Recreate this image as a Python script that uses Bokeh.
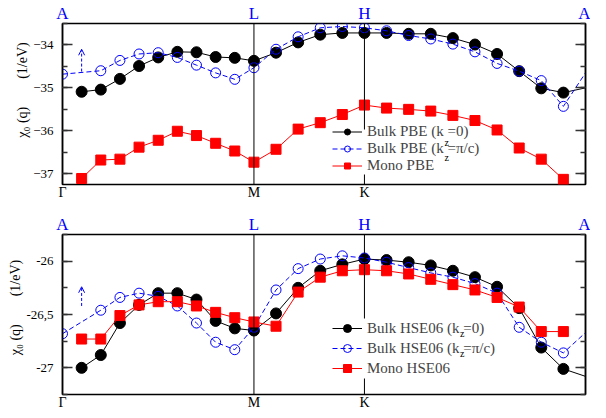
from bokeh.plotting import figure
from bokeh.models import (Range1d, FixedTicker, LinearAxis, Span, Legend, LegendItem,
                          Label, Arrow, OpenHead, ColumnDataSource, BoxAnnotation)
from bokeh.layouts import column
from bokeh.embed import file_html
from bokeh.resources import INLINE

# ---------------- data ----------------
# k-path distance (Gamma - M - K - Gamma), in units of 2*pi/a
kpath = [0.0000, 0.0577, 0.1155, 0.1732, 0.2309, 0.2887, 0.3464, 0.4041, 0.4619, 0.5196,
         0.5774, 0.6440, 0.7107, 0.7774, 0.8440, 0.9107, 0.9774, 1.0440, 1.1107, 1.1774,
         1.2440, 1.3107, 1.3774, 1.4440, 1.5107, 1.5774]
sym_pos = [0.0, 0.5774, 0.9107, 1.5774]
sym_bottom = ["Γ", "M", "K"]
sym_top = ["A", "L", "H", "A"]

# PBE panel
pbe_bulk_kz0 = [None, -35.09, -35.04, -34.79, -34.49, -34.29, -34.16, -34.17, -34.28, -34.30,
                -34.37, -34.18, -33.94, -33.76, -33.72, -33.72, -33.72, -33.74, -33.74, -33.84,
                -33.99, -34.21, -34.61, -35.01, -35.11, -35.00]
pbe_bulk_kzpi = [-34.68, None, -34.60, -34.36, -34.21, -34.18, -34.29, -34.47, -34.65, -34.80,
                 -34.53, -34.10, -33.81, -33.60, -33.57, -33.60, -33.67, -33.78, -33.86, -33.98,
                 -34.16, -34.43, -34.61, -34.83, -35.43, -34.65]
pbe_mono = [None, -37.11, -36.68, -36.66, -36.38, -36.22, -36.01, -36.11, -36.29, -36.47,
            -36.73, -36.43, -35.96, -35.81, -35.62, -35.40, -35.47, -35.50, -35.54, -35.64,
            -35.76, -35.98, -36.40, -36.66, -37.13, None]

# HSE06 panel
hse_bulk_kz0 = [None, -27.00, -26.88, -26.58, -26.41, -26.30, -26.30, -26.36, -26.56, -26.63,
                -26.65, -26.49, -26.25, -26.09, -26.03, -25.98, -25.99, -26.01, -26.04, -26.09,
                -26.15, -26.24, -26.44, -26.81, -27.01, -27.08]
hse_bulk_kzpi = [-26.68, None, -26.46, -26.34, -26.30, -26.33, -26.42, -26.58, -26.76, -26.83,
                 -26.62, -26.27, -26.07, -25.98, -25.95, -25.97, -26.01, -26.06, -26.11, -26.15,
                 -26.21, -26.30, -26.62, -26.76, -26.86, -26.67]
hse_mono = [None, -26.73, -26.73, -26.51, -26.41, -26.38, -26.38, -26.42, -26.48, -26.53,
            -26.57, -26.61, -26.29, -26.15, -26.09, -26.08, -26.09, -26.12, -26.17, -26.22,
            -26.27, -26.34, -26.43, -26.66, -26.66, None]

pbe_labels = ["Bulk PBE (k\u00a0=0)", "Bulk PBE (k\u00a0=\u03c0/c)", "Mono PBE"]
hse_labels = ["Bulk HSE06 (k\u00a0=0)", "Bulk HSE06 (k\u00a0=\u03c0/c)", "Mono HSE06"]

# arrow (k index 1) start / end values
pbe_arrow = [-34.62, -34.10]
hse_arrow = [-26.42, -26.24]

pbe_yticks = [-37, -36, -35, -34]
pbe_yminor = [-37.0, -36.5, -36.0, -35.5, -35.0, -34.5, -34.0, -33.5]
hse_yticks = [-27, -26.5, -26]
hse_yminor = [-27.25, -27.0, -26.75, -26.5, -26.25, -26.0, -25.75]
hse_ytick_text = {-27: "-27", -26.5: "-26,5", -26: "-26"}

BLUE = "#0000ff"
RED = "#ff0000"
FONT = "Liberation Serif"
NB = "\u00a0"
FRAME_W = 523


def series_source(vals, markers=False):
    xs, ys = [], []
    for k, v in zip(kpath, vals):
        if v is None:
            continue
        if markers and k >= kpath[-1]:
            continue
        xs.append(k)
        ys.append(v)
    return ColumnDataSource(dict(x=xs, y=ys))


def make_panel(frame_h, yr, yticks, yminor, ytext, s_kz0, s_kzpi, s_mono, labels, arrow,
               leg_loc, row_h, border_top, border_bottom, ylabel, sub_w):
    p = figure(frame_width=FRAME_W, frame_height=frame_h,
               x_range=Range1d(0, kpath[-1]), y_range=Range1d(*yr),
               output_backend="svg", toolbar_location=None,
               min_border_left=62, min_border_right=5, min_border_top=border_top,
               min_border_bottom=border_bottom)
    p.xgrid.visible = False
    p.ygrid.visible = False
    p.outline_line_color = "black"
    p.outline_line_width = 1.5
    p.background_fill_color = "white"
    p.border_fill_color = "white"

    # pixel (frame-relative) -> data helpers for annotation placement
    def px2x(px):
        return px * kpath[-1] / FRAME_W

    def py2y(py):
        return yr[0] + py * (yr[1] - yr[0]) / frame_h

    # bottom axis: high-symmetry labels
    xa = p.xaxis[0]
    xa.ticker = FixedTicker(ticks=sym_pos[:3])
    xa.major_label_overrides = {sym_pos[i]: sym_bottom[i] for i in range(3)}
    xa.axis_line_color = None
    xa.major_tick_in = 0
    xa.major_tick_out = 0
    xa.minor_tick_in = 0
    xa.minor_tick_out = 0
    xa.major_label_standoff = 0
    xa.major_label_text_font = FONT
    xa.major_label_text_font_size = "14px"
    xa.major_label_text_color = "black"

    # top axis
    ta = LinearAxis(ticker=FixedTicker(ticks=sym_pos),
                    major_label_overrides={sym_pos[i]: sym_top[i] for i in range(4)},
                    axis_line_color=None, major_tick_in=0, major_tick_out=0,
                    minor_tick_in=0, minor_tick_out=0, major_label_standoff=1,
                    major_label_text_color=BLUE, major_label_text_font=FONT,
                    major_label_text_font_size="17px")
    p.add_layout(ta, "above")

    # left axis
    ya = p.yaxis[0]
    ya.ticker = FixedTicker(ticks=yticks, minor_ticks=yminor)
    if ytext:
        ya.major_label_overrides = ytext
    ya.axis_line_color = "black"
    ya.axis_line_width = 1.5
    ya.major_tick_in = 10
    ya.major_tick_out = 0
    ya.minor_tick_in = 5
    ya.minor_tick_out = 0
    ya.major_tick_line_color = "#333333"
    ya.minor_tick_line_color = "#333333"
    ya.major_tick_line_width = 1.5
    ya.minor_tick_line_width = 1.5
    ya.major_label_standoff = 9
    ya.major_label_text_font = FONT
    ya.major_label_text_font_size = "13px"
    ya.major_label_text_color = "black"
    ya.axis_label = ylabel
    ya.axis_label_standoff = 0
    ya.axis_label_text_font = FONT
    ya.axis_label_text_font_size = "14px"
    ya.axis_label_text_font_style = "normal"
    ya.axis_label_text_color = "black"

    # right axis (ticks only)
    ra = LinearAxis(ticker=FixedTicker(ticks=yticks, minor_ticks=yminor),
                    axis_line_color="black", axis_line_width=1.5,
                    major_tick_in=10, major_tick_out=0, minor_tick_in=5, minor_tick_out=0,
                    major_tick_line_color="#333333", minor_tick_line_color="#333333",
                    major_tick_line_width=1.5, minor_tick_line_width=1.5,
                    major_label_overrides={t: "" for t in yticks},
                    major_label_standoff=0)
    p.add_layout(ra, "right")

    # vertical lines at M and K
    for loc in sym_pos[1:3]:
        p.add_layout(Span(location=loc, dimension="height", line_color="black", line_width=1))

    # white patch behind the legend symbols (hides the K line there)
    p.add_layout(BoxAnnotation(left=px2x(leg_loc[0]), right=px2x(leg_loc[0] + 42),
                               bottom=py2y(leg_loc[1]), top=py2y(leg_loc[1] + 3 * row_h),
                               fill_color="white", fill_alpha=1.0, line_color=None,
                               level="annotation"))

    # curves
    r1l = p.line("x", "y", source=series_source(s_kz0), line_color="black", line_width=1)
    r1m = p.scatter("x", "y", source=series_source(s_kz0, True), marker="circle", size=11,
                    fill_color="black", line_color="black")
    r2l = p.line("x", "y", source=series_source(s_kzpi), line_color=BLUE, line_width=1,
                 line_dash="5 3")
    r2m = p.scatter("x", "y", source=series_source(s_kzpi, True), marker="circle", size=10,
                    fill_color=None, line_color=BLUE, line_width=1)
    r3l = p.line("x", "y", source=series_source(s_mono), line_color=RED, line_width=1)
    r3m = p.scatter("x", "y", source=series_source(s_mono, True), marker="square", size=10,
                    fill_color=RED, line_color=RED)

    # dashed arrow at first k-point
    p.add_layout(Arrow(end=OpenHead(size=6, line_color=BLUE, line_width=1),
                       x_start=kpath[1], y_start=arrow[0], x_end=kpath[1], y_end=arrow[1],
                       line_color=BLUE, line_width=1, line_dash="3 2"))

    legend = Legend(items=[LegendItem(label=labels[0], renderers=[r1l, r1m]),
                           LegendItem(label=labels[1], renderers=[r2l, r2m]),
                           LegendItem(label=labels[2], renderers=[r3l, r3m])],
                    location=leg_loc, glyph_width=30, glyph_height=row_h, label_height=row_h,
                    spacing=0, padding=0, margin=0, label_standoff=5,
                    background_fill_alpha=0.0,
                    border_line_color=None, label_text_font=FONT,
                    label_text_font_size="15px", label_text_baseline="middle")
    p.add_layout(legend)

    # subscript z in the legend labels
    for i, w in enumerate(sub_w):
        yc = leg_loc[1] + row_h * (3 - i) - row_h / 2.0 - 5
        p.add_layout(Label(x=px2x(leg_loc[0] + 35 + w), y=py2y(yc),
                           text="z", text_font=FONT, text_font_size="10px",
                           text_baseline="middle", text_align="left",
                           text_color="black"))
    return p


ylabel_top = NB * 8 + "\u03c7\u2080 (q)" + NB * 8 + "(1/eV)"
ylabel_bot = NB * 4 + "\u03c7\u2080 (q)" + NB * 8 + "(1/eV)"

p1 = make_panel(161, (-37.25, -33.5), pbe_yticks, pbe_yminor, None,
                pbe_bulk_kz0, pbe_bulk_kzpi, pbe_mono, pbe_labels, pbe_arrow,
                (270, 10), 15, 15, 16, ylabel_top, [77, 77])
p2 = make_panel(160, (-27.25, -25.75), hse_yticks, hse_yminor, hse_ytick_text,
                hse_bulk_kz0, hse_bulk_kzpi, hse_mono, hse_labels, hse_arrow,
                (270, 16), 20, 32, 18, ylabel_bot, [92.5, 92.5])

layout = column(p1, p2, spacing=0)
open("out.html", "w").write(file_html(layout, INLINE))
